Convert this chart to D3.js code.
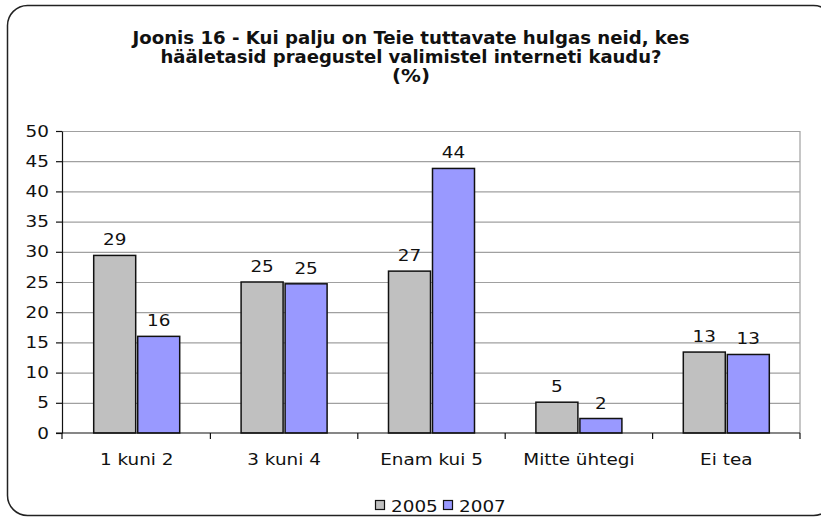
<!DOCTYPE html>
<html>
<head>
  <meta charset="utf-8">
  <title>Joonis 16</title>
  <style>
    body { margin: 0; background: #fff; }
    svg { display: block; font-family: "DejaVu Sans", Verdana, sans-serif; }
  </style>
</head>
<body>
  <svg id="chart" width="821" height="517"></svg>
  <script src="https://d3js.org/d3.v7.min.js"></script>
  <script>
    // andmed
    const categories = ["1 kuni 2", "3 kuni 4", "Enam kui 5", "Mitte ühtegi", "Ei tea"];
    const series = ["2005", "2007"];
    const values2005 = [29.4, 25.0, 26.8, 5.1, 13.4];
    const values2007 = [16.0, 24.7, 43.8, 2.4, 13.0];
    const yTicks = [0, 5, 10, 15, 20, 25, 30, 35, 40, 45, 50];
    const titleLines = [
      "Joonis 16 - Kui palju on Teie tuttavate hulgas neid, kes",
      "hääletasid praegustel valimistel interneti kaudu?",
      "(%)"
    ];
    const colors = { "2005": "#c0c0c0", "2007": "#9999ff" };

    const sx = 1.15; // teksti laius pildil on venitatud
    const svg = d3.select("#chart");

    // ümardatud raam
    svg.append("rect")
      .attr("x", 7.5).attr("y", 5.5)
      .attr("width", 826).attr("height", 510)
      .attr("rx", 20).attr("ry", 20)
      .attr("fill", "none")
      .attr("stroke", "#222")
      .attr("stroke-width", 1.5);

    // pealkiri
    const titleW = [557, 501, 38];
    titleLines.forEach((t, i) => {
      svg.append("text")
        .attr("x", 411).attr("y", 44 + i * 19)
        .attr("text-anchor", "middle")
        .attr("font-family", "DejaVu Sans Condensed, DejaVu Sans")
        .attr("font-size", 17.5)
        .attr("font-weight", "bold")
        .attr("fill", "#111")
        .attr("textLength", titleW[i])
        .attr("lengthAdjust", "spacingAndGlyphs")
        .text(t);
    });

    const plotL = 62, plotR = 800, plotT = 131, plotB = 433;

    const y = d3.scaleLinear().domain([0, 50]).range([plotB, plotT]);
    const x0 = d3.scaleBand().domain(categories).range([plotL + 1, plotR]);
    const x1 = d3.scaleBand().domain(series).range([-43, 43]).paddingInner(0.0455);

    // ruudustik
    svg.append("g")
      .attr("transform", `translate(${plotL},0)`)
      .call(d3.axisLeft(y).tickValues(yTicks.slice(1)).tickSize(-(plotR - plotL)).tickFormat(""))
      .call(g => g.select(".domain").remove())
      .call(g => g.selectAll("line").attr("stroke", "#a0a0a0").attr("stroke-width", 1.2));

    svg.append("line")
      .attr("x1", plotR).attr("x2", plotR)
      .attr("y1", plotT).attr("y2", plotB)
      .attr("stroke", "#a0a0a0").attr("stroke-width", 1.2);

    // tulbad
    const rows = categories.map((c, i) => ({ cat: c, vals: [values2005[i], values2007[i]] }));
    const grp = svg.selectAll(".grp")
      .data(rows)
      .enter().append("g")
      .attr("class", "grp")
      .attr("transform", d => `translate(${x0(d.cat) + x0.bandwidth() / 2},0)`);

    grp.selectAll("rect")
      .data(d => d.vals.map((v, j) => ({ s: series[j], v })))
      .enter().append("rect")
      .attr("x", d => x1(d.s))
      .attr("y", d => y(d.v))
      .attr("width", x1.bandwidth())
      .attr("height", d => plotB - y(d.v))
      .attr("fill", d => colors[d.s])
      .attr("stroke", "#111")
      .attr("stroke-width", 1.5);

    grp.selectAll(".val")
      .data(d => d.vals.map((v, j) => ({ s: series[j], v })))
      .enter().append("g")
      .attr("class", "val")
      .attr("transform", d => `translate(${x1(d.s) + x1.bandwidth() / 2},${y(d.v) - 10}) scale(${sx},1)`)
      .append("text")
      .attr("text-anchor", "middle")
      .attr("font-size", 16)
      .attr("fill", "#111")
      .text(d => d3.format(".0f")(d.v));

    // y-telg
    svg.append("g")
      .attr("transform", `translate(${plotL},0)`)
      .call(d3.axisLeft(y).tickValues(yTicks).tickSize(6).tickSizeOuter(0).tickPadding(7))
      .call(g => g.select(".domain").attr("stroke", "#111").attr("stroke-width", 1.2))
      .call(g => g.selectAll("line").attr("stroke", "#111").attr("stroke-width", 1.2))
      .call(g => g.selectAll("text")
        .attr("font-size", 16)
        .attr("font-family", "DejaVu Sans")
        .attr("fill", "#111")
        .attr("x", -13 / sx)
        .attr("transform", `scale(${sx},1)`));

    // x-telg
    const xEdges = categories.map(c => x0(c)).concat([plotR]);
    svg.append("line")
      .attr("x1", plotL - 6).attr("x2", plotR)
      .attr("y1", plotB).attr("y2", plotB)
      .attr("stroke", "#111").attr("stroke-width", 1.2);
    svg.selectAll(".xtick")
      .data(xEdges)
      .enter().append("line")
      .attr("class", "xtick")
      .attr("x1", (d, i) => i === 0 ? plotL : d).attr("x2", (d, i) => i === 0 ? plotL : d)
      .attr("y1", plotB).attr("y2", plotB + 6)
      .attr("stroke", "#111").attr("stroke-width", 1.2);

    svg.selectAll(".cat")
      .data(categories)
      .enter().append("g")
      .attr("class", "cat")
      .attr("transform", d => `translate(${x0(d) + x0.bandwidth() / 2},465) scale(${sx},1)`)
      .append("text")
      .attr("text-anchor", "middle")
      .attr("font-size", 16)
      .attr("fill", "#111")
      .text(d => d);

    // legend
    const legendX = [375, 443];
    const leg = svg.selectAll(".leg")
      .data(series)
      .enter().append("g")
      .attr("class", "leg")
      .attr("transform", (d, i) => `translate(${legendX[i]},500)`);
    leg.append("rect")
      .attr("x", 0.5).attr("y", 0.5)
      .attr("width", 9).attr("height", 9)
      .attr("fill", d => colors[d])
      .attr("stroke", "#111").attr("stroke-width", 1.2);
    leg.append("g")
      .attr("transform", `translate(16,11.5) scale(${sx},1)`)
      .append("text")
      .attr("font-size", 16)
      .attr("fill", "#111")
      .text(d => d);
  </script>
</body>
</html>
